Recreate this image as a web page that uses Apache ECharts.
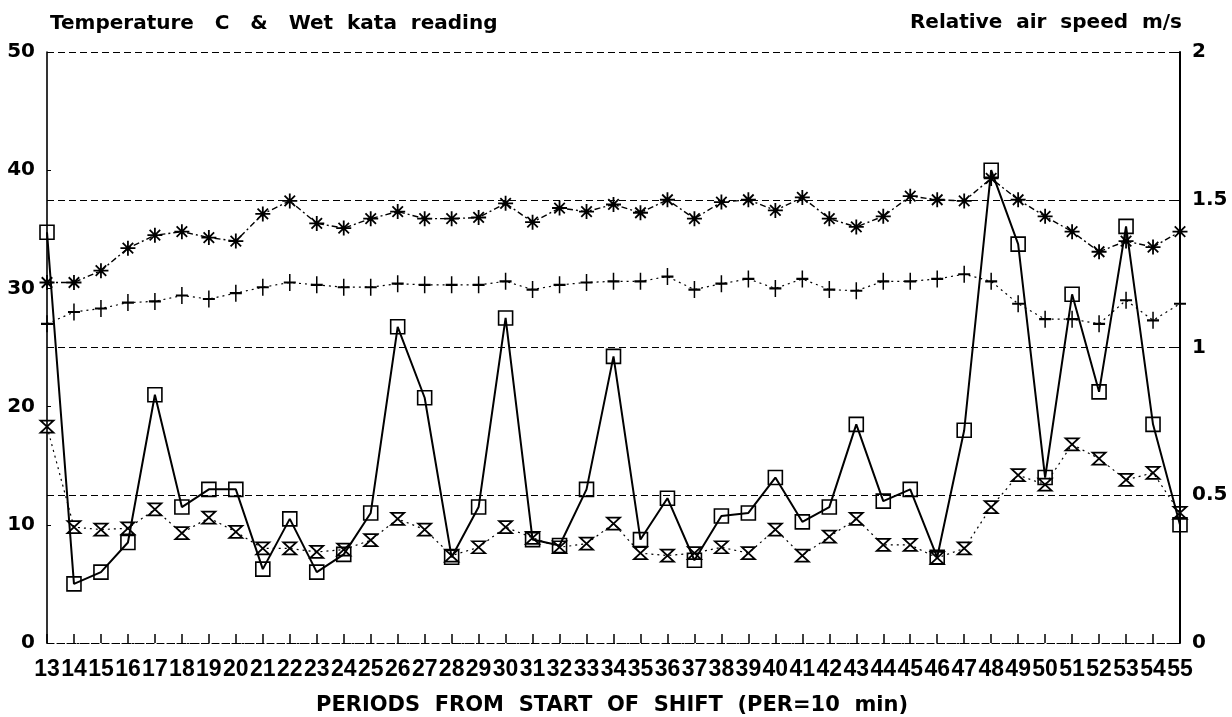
<!DOCTYPE html>
<html>
<head>
<meta charset="utf-8">
<script src="https://cdn.jsdelivr.net/npm/echarts@6/dist/echarts.min.js"></script>
<style>
  html, body { margin: 0; padding: 0; background: #fff; }
  #chart { width: 1232px; height: 717px; }
</style>
</head>
<body>
<div id="chart"></div>
<script>
// Periods from start of shift (PER = 10 min)
const categories = ['13','14','15','16','17','18','19','20','21','22','23','24','25','26','27','28','29','30','31','32','33','34','35','36','37','38','39','40','41','42','43','44','45','46','47','48','49','50','51','52','53','54','55'];

// Temperature C (asterisk markers)
const dryTemp = [30.5, 30.5, 31.5, 33.4, 34.5, 34.8, 34.3, 34.0, 36.3, 37.4, 35.5, 35.1, 35.9, 36.5, 35.9, 35.9, 36.0, 37.2, 35.6, 36.8, 36.5, 37.1, 36.4, 37.5, 35.9, 37.3, 37.5, 36.6, 37.7, 35.9, 35.2, 36.1, 37.8, 37.5, 37.4, 39.3, 37.5, 36.1, 34.8, 33.1, 34.0, 33.5, 34.8];

// Temperature C (plus markers)
const wetTemp = [27.0, 28.0, 28.3, 28.8, 28.9, 29.4, 29.1, 29.6, 30.1, 30.5, 30.3, 30.1, 30.1, 30.4, 30.3, 30.3, 30.3, 30.6, 29.9, 30.3, 30.5, 30.6, 30.6, 31.0, 29.9, 30.4, 30.8, 30.0, 30.8, 29.9, 29.8, 30.6, 30.6, 30.8, 31.2, 30.6, 28.7, 27.4, 27.4, 27.0, 29.0, 27.3, 28.7];

// Wet kata reading (hourglass markers)
const wetKata = [18.3, 9.8, 9.6, 9.7, 11.3, 9.3, 10.6, 9.4, 8.0, 8.0, 7.7, 7.9, 8.7, 10.5, 9.6, 7.4, 8.1, 9.8, 8.9, 8.1, 8.4, 10.1, 7.6, 7.4, 7.6, 8.1, 7.6, 9.6, 7.4, 9.0, 10.5, 8.3, 8.3, 7.2, 8.0, 11.5, 14.2, 13.4, 16.8, 15.6, 13.8, 14.4, 11.0];

// Relative air speed m/s (square markers, right axis)
const airSpeed = [1.39, 0.20, 0.24, 0.34, 0.84, 0.46, 0.52, 0.52, 0.25, 0.42, 0.24, 0.30, 0.44, 1.07, 0.83, 0.29, 0.46, 1.10, 0.35, 0.33, 0.52, 0.97, 0.35, 0.49, 0.28, 0.43, 0.44, 0.56, 0.41, 0.46, 0.74, 0.48, 0.52, 0.29, 0.72, 1.60, 1.35, 0.56, 1.18, 0.85, 1.41, 0.74, 0.40];

const leftAxisMax = 50;
const leftAxisStep = 10;
const rightAxisMax = 2;
const rightAxisStep = 0.5;

const chart = echarts.init(document.getElementById('chart'), null, { renderer: 'canvas' });

const BLACK = '#000';
const numFont = 'DejaVu Sans';

const asteriskPath = 'path://M10,0L10,20M0,10L20,10M3,3L17,17M17,3L3,17';
const plusPath = 'path://M10,0L10,20M2,10L18,10';
const hourglassPath = 'path://M0,0L20,0L0,20L20,20Z';

const option = {
  animation: false,
  backgroundColor: '#fff',
  grid: { left: 47, right: 52, top: 52, bottom: 74, containLabel: false },
  xAxis: {
    type: 'category',
    data: categories,
    boundaryGap: false,
    axisLine: { show: true, lineStyle: { color: BLACK, width: 1.2, type: [2, 3] } },
    axisTick: { show: true, inside: true, length: 9, interval: 0, lineStyle: { color: BLACK, width: 1.5 } },
    axisLabel: {
      interval: 0, margin: 15, color: BLACK,
      fontFamily: 'Liberation Sans', fontWeight: 'bold', fontSize: 23
    },
    splitLine: { show: false }
  },
  yAxis: [
    {
      type: 'value', min: 0, max: leftAxisMax, interval: leftAxisStep,
      position: 'left',
      axisLine: { show: true, lineStyle: { color: BLACK, width: 1.6 } },
      axisTick: { show: true, inside: true, length: 4, lineStyle: { color: BLACK } },
      axisLabel: { margin: 12, color: BLACK, fontFamily: numFont, fontWeight: 'bold', fontSize: 20 },
      splitLine: { show: false }
    },
    {
      type: 'value', min: 0, max: rightAxisMax, interval: rightAxisStep,
      position: 'right',
      axisLine: { show: true, lineStyle: { color: BLACK, width: 2 } },
      axisTick: { show: true, inside: true, length: 5, lineStyle: { color: BLACK } },
      axisLabel: { margin: 12, color: BLACK, fontFamily: numFont, fontWeight: 'bold', fontSize: 20 },
      splitLine: { show: true, lineStyle: { color: BLACK, width: 1, type: [7, 4] } }
    }
  ],
  series: [
    {
      name: 'Dry bulb temperature C',
      type: 'line', yAxisIndex: 0, data: dryTemp,
      symbol: asteriskPath, symbolSize: 15, showSymbol: true,
      lineStyle: { color: BLACK, width: 1.4, type: [6, 3, 2, 3] },
      itemStyle: { color: 'rgba(0,0,0,0)', borderColor: BLACK, borderWidth: 1.8 },
      emphasis: { disabled: true }, z: 3
    },
    {
      name: 'Wet bulb temperature C',
      type: 'line', yAxisIndex: 0, data: wetTemp,
      symbol: plusPath, symbolSize: [12, 17], showSymbol: true,
      lineStyle: { color: BLACK, width: 1.2, type: [2, 4] },
      itemStyle: { color: 'rgba(0,0,0,0)', borderColor: BLACK, borderWidth: 1.8 },
      emphasis: { disabled: true }, z: 3
    },
    {
      name: 'Wet kata reading',
      type: 'line', yAxisIndex: 0, data: wetKata,
      symbol: hourglassPath, symbolSize: [13, 12], showSymbol: true,
      lineStyle: { color: BLACK, width: 1.2, type: [2, 4] },
      itemStyle: { color: 'rgba(0,0,0,0)', borderColor: BLACK, borderWidth: 1.8 },
      emphasis: { disabled: true }, z: 3
    },
    {
      name: 'Relative air speed m/s',
      type: 'line', yAxisIndex: 1, data: airSpeed,
      symbol: 'rect', symbolSize: 14, showSymbol: true,
      lineStyle: { color: BLACK, width: 2 },
      itemStyle: { color: 'rgba(0,0,0,0)', borderColor: BLACK, borderWidth: 1.6 },
      emphasis: { disabled: true }, z: 4
    }
  ],
  graphic: [
    {
      type: 'text', left: 50, top: 14,
      style: { text: 'Temperature   C   &   Wet  kata  reading', fill: BLACK, font: 'bold 20px "DejaVu Sans"' }
    },
    {
      type: 'text', right: 50, top: 13,
      style: { text: 'Relative  air  speed  m/s', fill: BLACK, font: 'bold 20px "DejaVu Sans"' }
    },
    {
      type: 'text', left: 316, top: 695,
      style: { text: 'PERIODS  FROM  START  OF  SHIFT  (PER=10  min)', fill: BLACK, font: 'bold 21px "DejaVu Sans"' }
    }
  ]
};

chart.setOption(option);
</script>
</body>
</html>
